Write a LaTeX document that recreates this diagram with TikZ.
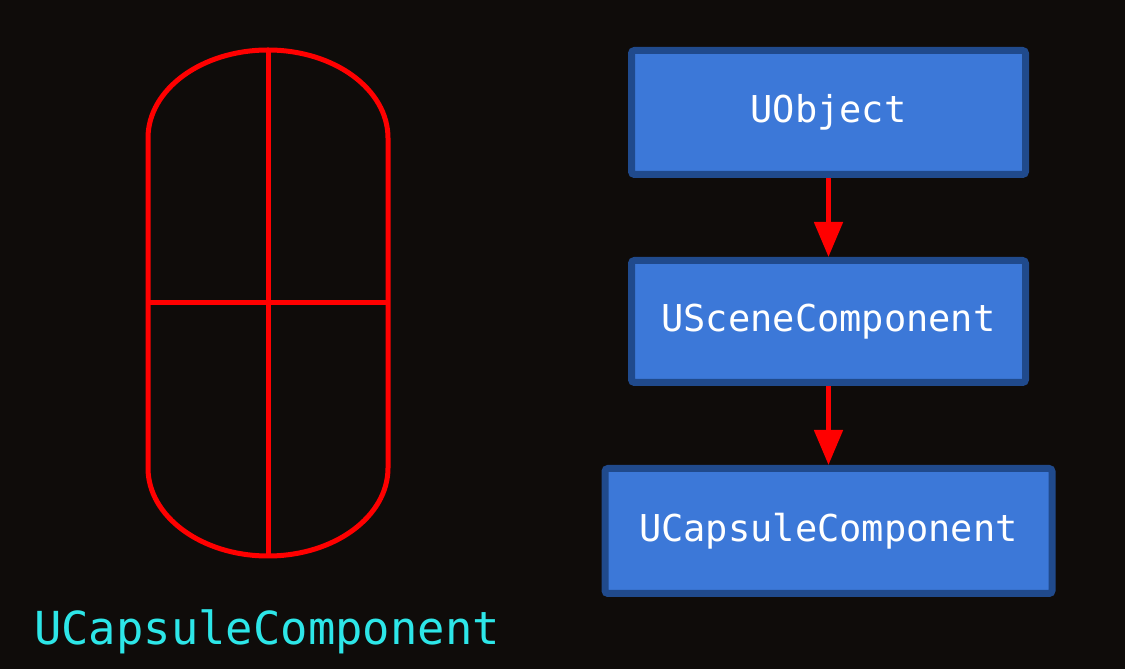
\documentclass[tikz,border=0pt]{standalone}
\usepackage{fontspec}
\newfontfamily\monofam{DejaVu Sans Mono}
\usetikzlibrary{arrows.meta}
\definecolor{bgdark}{HTML}{0F0C0A}
\definecolor{boxfill}{HTML}{3C78D8}
\definecolor{boxedge}{HTML}{204A8C}
\definecolor{capred}{HTML}{FF0000}
\definecolor{labcyan}{HTML}{2DE6E8}
\tikzset{
  classbox/.style={draw=boxedge, line width=7pt, fill=boxfill, rounded corners=3pt,
    text=white, font=\monofam\fontsize{37}{40}\selectfont, inner sep=0pt},
  inherit/.style={draw=capred, line width=5pt, -{Triangle[width=28pt,length=35pt]}},
  capline/.style={draw=capred, line width=5pt}
}
\begin{document}
\begin{tikzpicture}[x=1pt,y=1pt]
\fill[bgdark] (0,0) rectangle (1125,669);
\useasboundingbox (0,0) rectangle (1125,669);
% capsule
\draw[capline] (148,201) -- (148,531) arc[start angle=180,end angle=0,x radius=120,y radius=88]
  -- (388,201) arc[start angle=0,end angle=-180,x radius=120,y radius=88] -- cycle;
\draw[capline] (268,619) -- (268,113);
\draw[capline] (148,366) -- (388,366);
% class boxes
\node[classbox, minimum width=394pt, minimum height=124pt] (uobj) at (828.5,556.5) {UObject};
\node[classbox, minimum width=394pt, minimum height=122pt] (uscene) at (828.5,347.5) {USceneComponent};
\node[classbox, minimum width=447pt, minimum height=125pt] (ucap) at (828.5,138) {UCapsuleComponent};
\draw[inherit] (uobj.south) -- (uscene.north);
\draw[inherit] (uscene.south) -- (ucap.north);
% label
\node[text=labcyan, font=\monofam\fontsize{45.5}{48}\selectfont, inner sep=0pt] (label) at (267,37) {UCapsuleComponent};
\end{tikzpicture}
\end{document}
